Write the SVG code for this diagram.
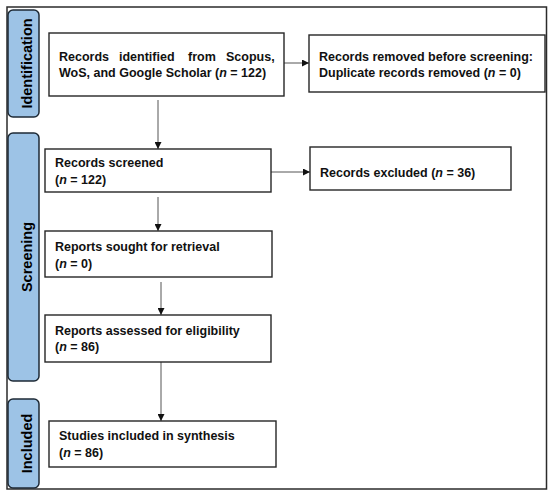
<svg xmlns="http://www.w3.org/2000/svg" width="550" height="496" viewBox="0 0 550 496">
<style>
.frame{fill:#ffffff;stroke:#2b2b2b;stroke-width:1.5}
.side{fill:#9dc3e6;stroke:#1e2a36;stroke-width:1.5}
.box{fill:#ffffff;stroke:#262626;stroke-width:1.4}
.conn{stroke:#555555;stroke-width:1;fill:none;marker-end:url(#ah)}
text{font-family:"Liberation Sans",Arial,sans-serif;font-weight:bold;font-size:12.5px;fill:#111111}
.lab{font-size:14.5px;fill:#000000}
</style>
<defs>
<marker id="ah" viewBox="0 0 10 10" refX="10" refY="5" markerWidth="7" markerHeight="7" markerUnits="userSpaceOnUse" orient="auto">
<path d="M0,0 L10,5 L0,10 z" fill="#111111"/>
</marker>
</defs>
<rect width="550" height="496" fill="#ffffff"/>
<rect class="frame" x="7" y="7" width="539.5" height="482"/>
<g id="phase-identification">
<rect class="side" x="8" y="10" width="31" height="107" rx="5"/>
<text class="lab" transform="translate(28.5,63.5) rotate(-90)" text-anchor="middle" dominant-baseline="middle">Identification</text>
</g>
<g id="phase-screening">
<rect class="side" x="8" y="133" width="31" height="248" rx="5"/>
<text class="lab" transform="translate(28.5,257) rotate(-90)" text-anchor="middle" dominant-baseline="middle">Screening</text>
</g>
<g id="phase-included">
<rect class="side" x="8" y="399" width="31" height="89" rx="5"/>
<text class="lab" transform="translate(28.5,443.5) rotate(-90)" text-anchor="middle" dominant-baseline="middle">Included</text>
</g>
<g id="connectors">
<line class="conn" x1="158" y1="100" x2="158" y2="149"/>
<line class="conn" x1="284" y1="63" x2="309" y2="63"/>
<line class="conn" x1="271" y1="172" x2="310" y2="172"/>
<line class="conn" x1="158" y1="197" x2="158" y2="231"/>
<line class="conn" x1="161" y1="282" x2="161" y2="315"/>
<line class="conn" x1="161" y1="362" x2="161" y2="421"/>
</g>
<g id="records-identified">
<rect class="box" x="49" y="33" width="235" height="63"/>
<text y="61"><tspan x="59">Records</tspan><tspan x="119">identified</tspan><tspan x="188">from</tspan><tspan x="226">Scopus,</tspan></text>
<text x="59" y="77">WoS, and Google Scholar (<tspan font-style="italic">n</tspan> = 122)</text>
</g>
<g id="records-removed">
<rect class="box" x="309" y="35" width="236" height="57"/>
<text x="319" y="61">Records removed before screening:</text>
<text x="319" y="77">Duplicate records removed (<tspan font-style="italic">n</tspan> = 0)</text>
</g>
<g id="records-screened">
<rect class="box" x="45" y="149" width="226" height="43"/>
<text x="55" y="167">Records screened</text>
<text x="55" y="184">(<tspan font-style="italic">n</tspan> = 122)</text>
</g>
<g id="records-excluded">
<rect class="box" x="310" y="147" width="201" height="43"/>
<text x="320" y="177">Records excluded (<tspan font-style="italic">n</tspan> = 36)</text>
</g>
<g id="reports-sought">
<rect class="box" x="45" y="231" width="227" height="46"/>
<text x="55" y="251">Reports sought for retrieval</text>
<text x="55" y="268">(<tspan font-style="italic">n</tspan> = 0)</text>
</g>
<g id="reports-assessed">
<rect class="box" x="45" y="315" width="226" height="47"/>
<text x="55" y="335">Reports assessed for eligibility</text>
<text x="55" y="351">(<tspan font-style="italic">n</tspan> = 86)</text>
</g>
<g id="studies-included">
<rect class="box" x="49" y="421" width="227" height="46"/>
<text x="59" y="440">Studies included in synthesis</text>
<text x="59" y="457">(<tspan font-style="italic">n</tspan> = 86)</text>
</g>
</svg>
